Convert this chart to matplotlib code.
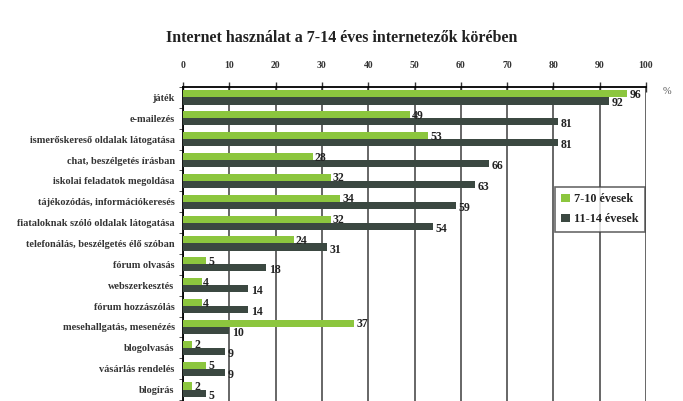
import numpy as np
import matplotlib
matplotlib.use("Agg")
import matplotlib.pyplot as plt

# adatok
categories = [
    "játék",
    "e-mailezés",
    "ismerőskereső oldalak látogatása",
    "chat, beszélgetés írásban",
    "iskolai feladatok megoldása",
    "tájékozódás, információkeresés",
    "fiataloknak szóló oldalak látogatása",
    "telefonálás, beszélgetés élő szóban",
    "fórum olvasás",
    "webszerkesztés",
    "fórum hozzászólás",
    "mesehallgatás, mesenézés",
    "blogolvasás",
    "vásárlás rendelés",
    "blogírás",
]
younger = [96, 49, 53, 28, 32, 34, 32, 24, 5, 4, 4, 37, 2, 5, 2]
older = [92, 81, 81, 66, 63, 59, 54, 31, 18, 14, 14, 10, 9, 9, 5]
xticks = [0, 10, 20, 30, 40, 50, 60, 70, 80, 90, 100]

green = "#8cc63e"
dark = "#3b4841"
serif = "Liberation Serif"

fig = plt.figure(figsize=(6.83, 4.01), dpi=100)
ax = fig.add_axes([183 / 683, 0.0, (646 - 183) / 683, 1 - 87 / 401])

y = np.arange(len(categories))
h = 0.34
ax.barh(y - h / 2, younger, height=h, color=green, label="7-10 évesek", zorder=3)
ax.barh(y + h / 2, older, height=h, color=dark, label="11-14 évesek", zorder=3)

for i in range(len(categories)):
    ax.text(younger[i] + 0.4, y[i] - h / 2 + 0.05, str(younger[i]), fontsize=8.5,
            fontweight="bold", family=serif, color="#222222", va="center", zorder=4)
    ax.text(older[i] + 0.6, y[i] + h / 2 + 0.12, str(older[i]), fontsize=8.5,
            fontweight="bold", family=serif, color="#222222", va="center", zorder=4)

ax.set_xlim(0, 100)
ax.set_ylim(len(categories) - 0.5 + 0.05, -0.45)
ax.xaxis.tick_top()
ax.set_xticks(xticks)
ax.set_xticklabels([str(t) for t in xticks], fontsize=7, fontweight="bold", family=serif)
ax.tick_params(axis="x", direction="inout", length=7, width=1, pad=9, colors="#333333")

ax.set_yticks(y)
ax.set_yticklabels(categories, fontsize=7.4, fontweight="bold", family=serif, color="#333333")
ax.tick_params(axis="y", length=0, pad=6)
ax.set_yticks(np.arange(len(categories) + 1) - 0.5, minor=True)
ax.tick_params(axis="y", which="minor", length=3, direction="out", color="#333333")

ax.grid(axis="x", color="#5a5a5a", linewidth=1.3, zorder=0)
ax.set_axisbelow(True)
for s in ["right", "bottom"]:
    ax.spines[s].set_visible(False)
ax.spines["top"].set_linewidth(1.3)
ax.spines["left"].set_linewidth(1.3)

ax.text(103.5, -0.3, "%", fontsize=7.5, family=serif, color="#555555", va="center")

fig.text(0.5, 1 - 38 / 401, "Internet használat a 7-14 éves internetezők körében",
         ha="center", va="center", fontsize=11.5, fontweight="bold", family=serif, color="#222222")

leg = ax.legend(loc="upper left", bbox_to_anchor=(372 / 463, 1 - 100 / 314), frameon=True,
                prop={"family": serif, "weight": "bold", "size": 8.7}, handlelength=0.7,
                handleheight=0.7, handletextpad=0.4, borderpad=0.5, labelspacing=0.7,
                borderaxespad=0, fancybox=False, edgecolor="#444444")
leg.get_frame().set_linewidth(1.2)
for t in leg.get_texts():
    t.set_color("#222222")

fig.savefig("out.png", dpi=100)
